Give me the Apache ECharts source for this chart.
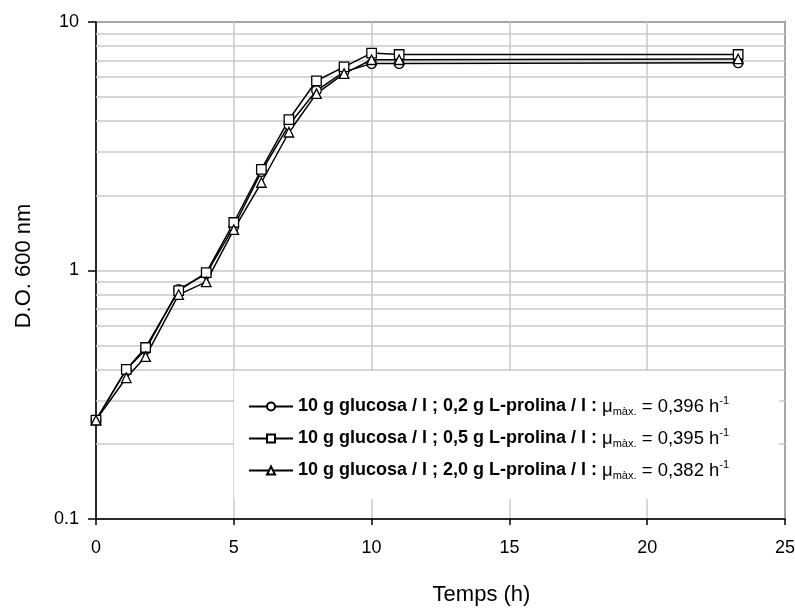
<!DOCTYPE html>
<html>
<head>
<meta charset="utf-8">
<script src="https://cdn.jsdelivr.net/npm/echarts@6/dist/echarts.min.js"></script>
<style>
  html, body { margin: 0; padding: 0; background: #fff; }
  #chart { width: 795px; height: 609px; }
</style>
</head>
<body>
<div id="chart"></div>
<script>
// temps (h)
var time = [0, 1.1, 1.8, 3, 4, 5, 6, 7, 8, 9, 10, 11, 23.3]
// D.O. 600 nm
var prolina02 = [0.25, 0.40, 0.48, 0.84, 0.97, 1.50, 2.50, 3.85, 5.30, 6.30, 6.80, 6.80, 6.85]
var prolina05 = [0.25, 0.40, 0.49, 0.83, 0.98, 1.56, 2.55, 4.05, 5.80, 6.60, 7.50, 7.40, 7.40]
var prolina20 = [0.25, 0.37, 0.45, 0.80, 0.90, 1.46, 2.26, 3.60, 5.15, 6.20, 7.05, 7.05, 7.10]

var seriesNames = [
  '10 g glucosa / l ; 0,2 g L-prolina / l :',
  '10 g glucosa / l ; 0,5 g L-prolina / l :',
  '10 g glucosa / l ; 2,0 g L-prolina / l :'
]
var muMax = ['0,396', '0,395', '0,382']
var symbols = ['circle', 'rect', 'triangle']
var values = [prolina02, prolina05, prolina20]

// log gridlines between the decades
var minorGrid = [0.2, 0.3, 0.4, 0.5, 0.6, 0.7, 0.8, 0.9, 2, 3, 4, 5, 6, 7, 8, 9]

var chart = echarts.init(document.getElementById('chart'))

function pairs(ys) {
  return time.map(function (t, i) { return [t, ys[i]] })
}

var series = [{
  name: 'grid',
  type: 'line',
  data: [],
  z: 1,
  silent: true,
  markLine: {
    silent: true,
    z: 1,
    symbol: 'none',
    label: { show: false },
    lineStyle: { color: '#c8c8c8', width: 1.5, type: 'solid' },
    data: minorGrid.map(function (v) { return { yAxis: v } })
  }
}]

seriesNames.forEach(function (name, i) {
  series.push({
    name: name,
    type: 'line',
    z: 3,
    data: pairs(values[i]),
    symbol: symbols[i],
    symbolSize: 9.5,
    lineStyle: { color: '#000', width: 1.5 },
    itemStyle: { color: '#fff', borderColor: '#000', borderWidth: 1.3 }
  })
})

chart.setOption({
  animation: false,
  textStyle: { fontFamily: 'Liberation Sans, Arial, sans-serif' },
  grid: {
    left: 96,
    right: 10,
    top: 22,
    bottom: 90,
    containLabel: false,
    outerBoundsMode: 'none',
    show: true,
    borderColor: '#000',
    borderWidth: 1.5
  },
  legend: {
    data: seriesNames,
    orient: 'vertical',
    left: 234,
    top: 371,
    backgroundColor: '#fff',
    padding: [24, 50, 18, 14],
    itemWidth: 44,
    itemHeight: 10,
    itemGap: 10,
    z: 6,
    formatter: function (name) {
      var i = seriesNames.indexOf(name)
      return '{b|' + name + ' }{n|\u03bc}{sub|m\u00e0x.}{n| = ' + muMax[i] + ' h}{sup|-1}'
    },
    textStyle: {
      color: '#000',
      rich: {
        b: { fontSize: 18, fontWeight: 'bold', color: '#000', lineHeight: 20 },
        n: { fontSize: 18.5, color: '#000', lineHeight: 20 },
        sub: { fontSize: 11, color: '#000', padding: [10, 0, 0, 0] },
        sup: { fontSize: 11, color: '#000', padding: [0, 0, 12, 0] }
      }
    }
  },
  xAxis: {
    type: 'value',
    min: 0,
    max: 25,
    interval: 5,
    name: 'Temps (h)',
    nameLocation: 'middle',
    nameGap: 65,
    nameTextStyle: { fontSize: 22, color: '#000', padding: [0, 0, 0, 82] },
    axisLine: { lineStyle: { color: '#000', width: 1.5 } },
    axisTick: { length: 6, lineStyle: { color: '#000', width: 1.5 } },
    axisLabel: { fontSize: 18, color: '#000', margin: 20 },
    splitLine: { lineStyle: { color: '#c8c8c8', width: 1.5 } }
  },
  yAxis: {
    type: 'log',
    logBase: 10,
    min: 0.1,
    max: 10,
    name: 'D.O. 600 nm',
    nameLocation: 'middle',
    nameGap: 61,
    nameTextStyle: { fontSize: 22, color: '#000', padding: [0, 0, 0, 9] },
    axisLine: { lineStyle: { color: '#000', width: 1.5 } },
    axisTick: { length: 8, lineStyle: { color: '#000', width: 1.5 } },
    axisLabel: { fontSize: 18, color: '#000', margin: 17 },
    splitLine: { lineStyle: { color: '#c8c8c8', width: 1.5 } }
  },
  series: series
})
</script>
</body>
</html>
